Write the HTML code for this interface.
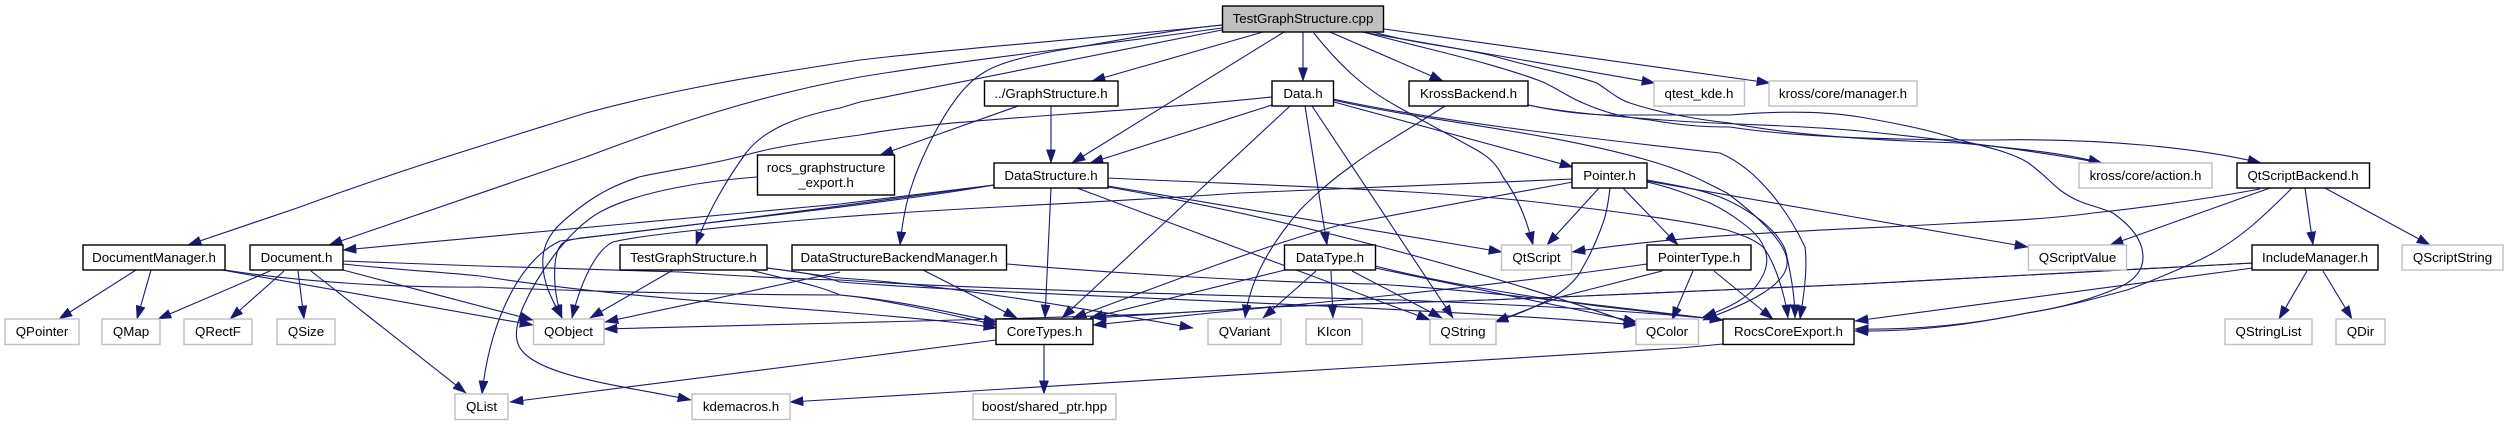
<!DOCTYPE html>
<html><head><meta charset="utf-8"><style>
html,body{margin:0;padding:0;background:#fff;width:2508px;height:425px;overflow:hidden}
svg{display:block}
.e path{fill:none;stroke:#191970;stroke-width:1.1;marker-end:url(#a)}
.n rect{fill:#fff;stroke:#000;stroke-width:1.4}
.g rect{fill:#fff;stroke:#bfbfbf;stroke-width:1.4}
text{font-family:"Liberation Sans",sans-serif;font-size:13.33px;text-anchor:middle;fill:#000}
</style></head><body>
<svg width="2508" height="425" viewBox="0 0 2508 425" xmlns="http://www.w3.org/2000/svg">
<defs><marker id="a" markerUnits="userSpaceOnUse" markerWidth="15" markerHeight="11" refX="13.3" refY="4.65" orient="auto"><path d="M0,0L13.3,4.65L0,9.3Z" fill="#191970" stroke="#191970" stroke-width=".5"/></marker></defs>
<g class="e">
<path d="M1222,25C1100,38 960,48 860,60C760,75 670,90 586,113C500,140 400,170 300,207L188,245"/>
<path d="M1222,28C1100,45 950,62 860,77C760,95 670,125 586,157L329,245"/>
<path d="M1222,25C1170,30 1120,40 1073,48C1030,55 1000,62 983,73C950,92 920,160 912,185C905,205 902,225 900,245"/>
<path d="M1222,30L860,102L840,108C800,116 765,128 746,153C730,175 708,210 696,245"/>
<path d="M1263,32L1092,81"/>
<path d="M1284,32L1072,163"/>
<path d="M1303,32L1303,81"/>
<path d="M1313,32C1345,72 1370,92 1400,108C1430,125 1450,135 1473,148C1490,157 1497,165 1503,177C1520,200 1528,225 1533,245"/>
<path d="M1334,102L1573,167"/>
<path d="M1330,32L1443,81"/>
<path d="M1362,32L1655,83"/>
<path d="M1384,29L1770,83"/>
<path d="M1363,32C1430,50 1490,62 1543,82C1560,90 1570,98 1583,103C1610,115 1630,118 1650,120C1680,125 1700,127 1730,127C1780,135 1860,140 1993,140C2100,138 2200,148 2261,163"/>
<path d="M1373,32C1420,45 1460,47 1497,57C1550,72 1575,75 1597,83C1610,92 1620,100 1630,103C1660,113 1700,120 1730,123C1780,133 1860,140 1960,143C2010,148 2060,152 2102,163"/>
<path d="M1018,106L880,155"/>
<path d="M1051,106L1051,163"/>
<path d="M1528,105C1560,112 1590,115 1613,115L1730,115C1790,110 1830,112 1860,117C1900,124 1930,130 1960,140C1990,148 2010,152 2027,162C2045,175 2050,182 2060,190C2080,205 2095,205 2113,213C2130,225 2143,240 2143,257C2143,270 2135,280 2120,287C2090,300 2060,308 2027,313C1970,325 1910,330 1855,329"/>
<path d="M1528,105C1560,112 1610,116 1663,120C1730,125 1800,125 1860,131C1950,140 2030,150 2102,163"/>
<path d="M1445,106C1400,135 1375,148 1350,167C1325,185 1310,200 1300,210C1270,245 1250,280 1245,318"/>
<path d="M1272,97C1100,115 950,118 860,135C800,143 770,148 746,155C710,165 670,170 639,177C615,185 600,193 586,203C560,222 545,235 543,257C541,280 552,300 562,318"/>
<path d="M1272,105L1090,163"/>
<path d="M1290,106L1062,318"/>
<path d="M1305,106L1327,245"/>
<path d="M1312,106L1453,318"/>
<path d="M1333,99C1430,120 1560,135 1720,153C1760,170 1790,215 1805,247C1808,270 1803,300 1800,319"/>
<path d="M1333,100C1430,122 1540,130 1647,160C1690,172 1710,185 1727,193C1750,210 1785,240 1787,260C1790,285 1745,305 1703,320"/>
<path d="M994,185L840,204L343,250"/>
<path d="M994,185C900,198 700,225 580,238C570,240 565,241 563,243C552,250 552,290 562,318"/>
<path d="M994,185C880,205 680,225 560,241C520,260 490,320 482,394"/>
<path d="M757,177C715,180 640,190 600,212C565,232 535,280 523,307C518,320 515,332 517,340C522,375 620,385 691,400"/>
<path d="M1051,188L1045,318"/>
<path d="M1077,188L1430,320"/>
<path d="M1108,186L1502,252"/>
<path d="M1108,187C1240,210 1440,255 1637,325"/>
<path d="M1108,178C1250,185 1450,190 1560,205C1630,213 1690,222 1727,230C1745,236 1755,240 1763,247C1775,262 1785,295 1788,318"/>
<path d="M1573,179L1240,193C1100,203 950,208 840,217C740,225 640,235 613,242C595,250 580,285 572,318"/>
<path d="M136,270L59,319"/>
<path d="M151,270L137,319"/>
<path d="M222,270L533,325"/>
<path d="M225,270C300,282 400,288 480,287C600,292 750,295 840,295C900,300 960,315 997,322"/>
<path d="M270,271L158,319"/>
<path d="M284,271L230,319"/>
<path d="M298,271L304,319"/>
<path d="M311,271L466,393"/>
<path d="M343,270L533,320"/>
<path d="M343,264C400,270 440,272 480,276C600,295 750,305 840,312C890,316 960,322 997,328"/>
<path d="M343,261L480,266L680,272C750,277 800,279 840,280C950,288 1200,295 1400,300C1550,306 1650,312 1723,320"/>
<path d="M2253,263L1860,284L1560,297C1450,302 1350,304 1270,307L1093,318"/>
<path d="M2253,263L1860,284L1560,297C1450,302 1350,304 1270,307C1150,316 1050,317 997,319C950,320 900,321 840,323L604,329"/>
<path d="M2253,268L1855,321"/>
<path d="M2307,271L2279,319"/>
<path d="M2323,271L2352,319"/>
<path d="M2260,189C2200,200 2150,207 2093,213C2050,219 2000,221 1960,223C1850,230 1700,232 1572,252"/>
<path d="M2270,188L2110,245"/>
<path d="M2305,188L2313,245"/>
<path d="M2325,188L2430,245"/>
<path d="M2292,188C2265,215 2235,245 2193,263C2170,273 2150,282 2127,290C2090,300 2060,308 2027,313C1970,325 1910,332 1855,331"/>
<path d="M1573,182L1340,225C1250,250 1150,290 1073,318"/>
<path d="M1599,188L1547,245"/>
<path d="M1610,188C1608,205 1606,215 1603,223C1597,240 1590,255 1583,267C1570,295 1530,310 1495,322"/>
<path d="M1623,188L1678,245"/>
<path d="M1647,181L1860,218L2028,247"/>
<path d="M1647,180C1680,186 1705,190 1727,200C1765,218 1785,240 1787,257C1792,280 1795,300 1795,318"/>
<path d="M1647,182C1670,187 1690,195 1710,203C1735,215 1755,232 1760,240C1770,255 1770,270 1753,290C1740,303 1720,311 1703,317"/>
<path d="M1647,264C1500,285 1350,300 1240,310L1093,325"/>
<path d="M1662,271L1560,297L1495,322"/>
<path d="M1693,271L1672,320"/>
<path d="M1714,271L1773,319"/>
<path d="M1285,270L1090,318"/>
<path d="M1316,271L1263,318"/>
<path d="M1331,271L1333,318"/>
<path d="M1352,271L1442,318"/>
<path d="M1375,268L1637,322"/>
<path d="M1375,266C1450,285 1540,298 1590,305C1620,309 1650,312 1680,315L1723,320"/>
<path d="M840,272L605,322"/>
<path d="M923,270L1017,318"/>
<path d="M1007,264C1100,272 1250,282 1376,284C1500,292 1620,308 1723,320"/>
<path d="M673,270L590,318"/>
<path d="M750,270C790,280 820,286 840,295C890,300 950,315 997,325"/>
<path d="M767,268L840,278C950,285 1080,308 1193,328"/>
<path d="M767,268C800,272 820,275 840,282C1000,295 1400,305 1637,325"/>
<path d="M996,340L840,360L510,402"/>
<path d="M1044,345L1044,394"/>
<path d="M1723,344L1680,348L840,399L790,402"/>
</g>
<g class="n">
<rect x="1222.5" y="6" width="161" height="26" style="fill:#bfbfbf"/><text x="1303" y="23">TestGraphStructure.cpp</text>
<rect x="984.5" y="81" width="133.500" height="25"/><text x="1051" y="98">../GraphStructure.h</text>
<rect x="1272" y="81" width="61.500" height="25"/><text x="1303" y="98">Data.h</text>
<rect x="1409" y="81" width="119" height="25"/><text x="1468.500" y="98">KrossBackend.h</text>
<rect x="757.500" y="155" width="137" height="40"/><text x="826" y="172">rocs_graphstructure</text><text x="826" y="187">_export.h</text>
<rect x="994" y="163" width="114" height="25"/><text x="1051" y="180">DataStructure.h</text>
<rect x="1572" y="163" width="75" height="25"/><text x="1609.500" y="180">Pointer.h</text>
<rect x="2237" y="163" width="132.500" height="25"/><text x="2303" y="180">QtScriptBackend.h</text>
<rect x="83" y="245" width="142" height="25"/><text x="154" y="262">DocumentManager.h</text>
<rect x="250" y="245" width="93" height="25"/><text x="296.500" y="262">Document.h</text>
<rect x="620" y="245" width="147" height="25"/><text x="693.500" y="262">TestGraphStructure.h</text>
<rect x="792" y="245" width="214.500" height="25"/><text x="899" y="262">DataStructureBackendManager.h</text>
<rect x="1284.500" y="245" width="91" height="25"/><text x="1330" y="262">DataType.h</text>
<rect x="1647" y="245" width="104" height="25"/><text x="1699" y="262">PointerType.h</text>
<rect x="2252" y="245" width="126" height="25"/><text x="2315" y="262">IncludeManager.h</text>
<rect x="996" y="319" width="97" height="25.500"/><text x="1044.500" y="336">CoreTypes.h</text>
<rect x="1723" y="319" width="131" height="25.500"/><text x="1788.500" y="336">RocsCoreExport.h</text>
</g>
<g class="g">
<rect x="1654" y="81" width="90.500" height="25"/><text x="1699" y="98">qtest_kde.h</text>
<rect x="1769" y="81" width="148" height="25"/><text x="1843" y="98">kross/core/manager.h</text>
<rect x="2079" y="163" width="133" height="25"/><text x="2145.500" y="180">kross/core/action.h</text>
<rect x="1501.500" y="245" width="70" height="25"/><text x="1536.500" y="262">QtScript</text>
<rect x="2028.500" y="245" width="98" height="25"/><text x="2077.500" y="262">QScriptValue</text>
<rect x="2402" y="245" width="101" height="25"/><text x="2452.500" y="262">QScriptString</text>
<rect x="5" y="319" width="74" height="25.500"/><text x="42" y="336">QPointer</text>
<rect x="102" y="319" width="58" height="25.500"/><text x="131" y="336">QMap</text>
<rect x="184" y="319" width="68" height="25.500"/><text x="218" y="336">QRectF</text>
<rect x="277" y="319" width="58" height="25.500"/><text x="306" y="336">QSize</text>
<rect x="533.500" y="319" width="70.500" height="25.500"/><text x="568.500" y="336">QObject</text>
<rect x="1208" y="319" width="73" height="25.500"/><text x="1244.500" y="336">QVariant</text>
<rect x="1306" y="319" width="56" height="25.500"/><text x="1334" y="336">KIcon</text>
<rect x="1430" y="319" width="66" height="25.500"/><text x="1463" y="336">QString</text>
<rect x="1636" y="319" width="62.500" height="25.500"/><text x="1667" y="336">QColor</text>
<rect x="2225" y="319" width="87" height="25.500"/><text x="2268.500" y="336">QStringList</text>
<rect x="2336" y="319" width="49" height="25.500"/><text x="2360.500" y="336">QDir</text>
<rect x="455" y="394" width="53" height="25.500"/><text x="481.500" y="411">QList</text>
<rect x="692" y="394" width="98" height="25.500"/><text x="741" y="411">kdemacros.h</text>
<rect x="973" y="394" width="143" height="25.500"/><text x="1044.500" y="411">boost/shared_ptr.hpp</text>
</g>
</svg>
</body></html>
